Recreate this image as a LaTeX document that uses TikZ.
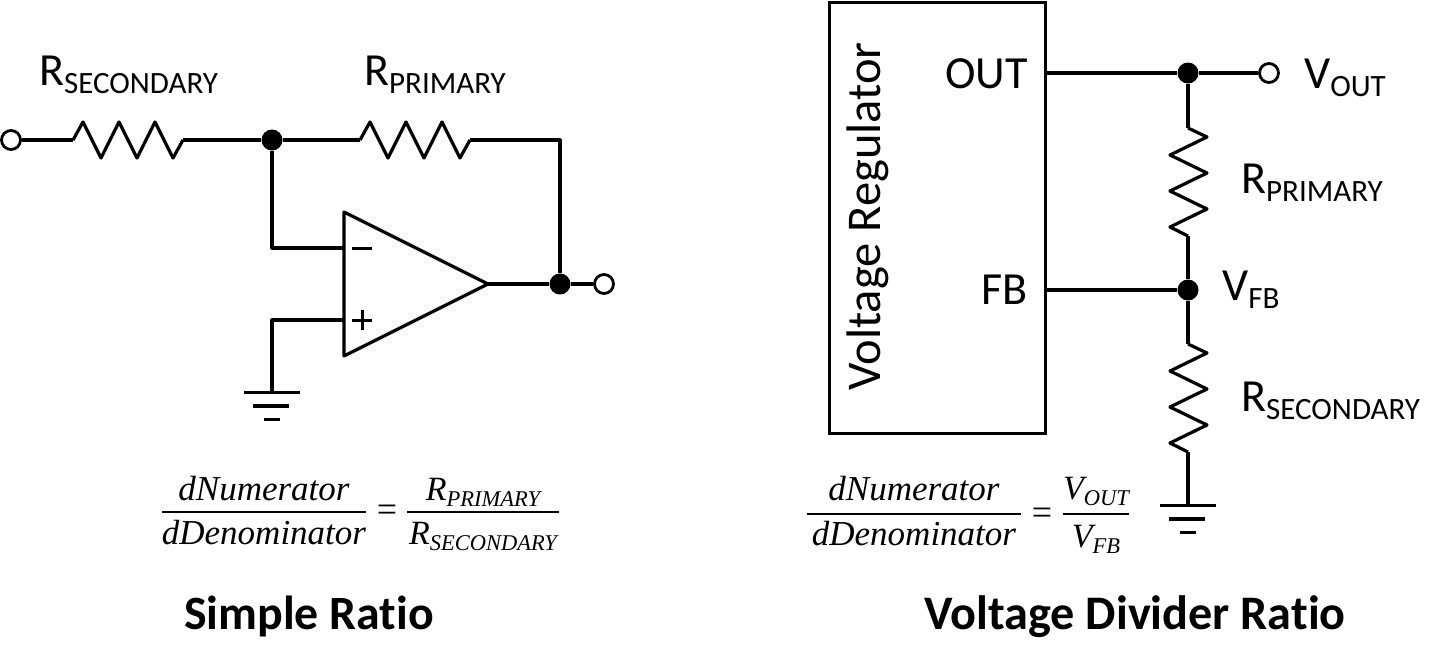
\documentclass[tikz,border=0pt]{standalone}
\usepackage{fontspec}
\setsansfont{Carlito}[Ligatures=NoCommon]
\newfontfamily\ratiofont{Liberation Serif}
\usetikzlibrary{arrows}

% label with a lowered small part
\newcommand{\lblsub}[2]{#1\raisebox{-8pt}{\fontsize{31}{36}\selectfont #2}}
\newcommand{\mathsub}[2]{{\fontsize{34}{40}\selectfont #1}\raisebox{-6pt}{\fontsize{22.5}{28}\selectfont #2}}

\begin{document}
\begin{tikzpicture}[
  x=1pt,y=-1pt,
  font=\sffamily,
  wire/.style={line width=3.2pt,line join=round},
  junction/.style={circle,fill=black,draw=none,minimum size=21pt,inner sep=0pt},
  terminal/.style={circle,fill=white,draw,line width=2.8pt,minimum size=19pt,inner sep=0pt},
  lbl/.style={anchor=base west,inner sep=0pt,font=\sffamily\fontsize{46}{52}\selectfont},
  title/.style={anchor=base west,inner sep=0pt,font=\sffamily\bfseries\fontsize{47.8}{54}\selectfont},
  ratio/.style={anchor=base,inner sep=0pt,font=\ratiofont\itshape\fontsize{35}{40}\selectfont},
  fracbar/.style={fill=black,inner sep=0pt,minimum height=2.5pt},
  hres/.pic={\draw[wire] (0,0) -- (10,-18) -- (28,18) -- (46,-18) -- (64,18) -- (82,-18) -- (100,18) -- (110,0);},
  vres/.pic={\draw[wire] (0,0) -- (19,9) -- (-18,27) -- (19,45) -- (-18,63) -- (19,81) -- (-18,99) -- (0,108);},
  gnd/.pic={
    \draw[line width=3pt] (-28,0) -- (28,0);
    \draw[line width=3.4pt] (-19,14) -- (17,14);
    \draw[line width=3pt] (-8,27) -- (8,27);}]

  % Simple ratio side
  \node[terminal] (in_term) at (11,140) {};
  \node[junction] (sum_dot) at (272,140) {};
  \node[junction] (out_dot) at (560,284) {};
  \node[terminal] (out_term) at (604,284) {};
  \coordinate (rs_in) at (73,140);
  \coordinate (rs_out) at (183,140);
  \coordinate (rp_in) at (360,140);
  \coordinate (rp_out) at (470,140);
  \coordinate (opamp_out) at (488,284);
  \coordinate (inv_in) at (344,248);
  \coordinate (non_in) at (344,320);
  \coordinate (gnd_a) at (272,392);

  \draw[wire] (344,212) -- (344,356) -- (opamp_out) -- cycle;
  \node[fill=black,inner sep=0pt,minimum width=20pt,minimum height=3pt] (minus_sign) at (362,248) {};
  \node[fill=black,inner sep=0pt,minimum width=20pt,minimum height=3pt] (plus_h) at (362,320) {};
  \node[fill=black,inner sep=0pt,minimum width=3pt,minimum height=20pt] (plus_v) at (362,320) {};

  \pic at (rs_in) {hres};
  \pic at (rp_in) {hres};
  \pic at (gnd_a) {gnd};

  \draw[wire] (in_term) -- (rs_in);
  \draw[wire] (rs_out) -- (sum_dot);
  \draw[wire] (sum_dot) -- (rp_in);
  \draw[wire] (rp_out) -| (out_dot);
  \draw[wire] (sum_dot) |- (inv_in);
  \draw[wire] (gnd_a) |- (non_in);
  \draw[wire] (opamp_out) -- (out_dot);
  \draw[wire] (out_dot) -- (out_term);

  \node[lbl] (rs_lbl) at (39,85) {\lblsub{R}{SECONDARY}};
  \node[lbl] (rp_lbl) at (364,85) {\lblsub{R}{PRIMARY}};

  \node[ratio] (num_a) at (264,500) {dNumerator};
  \node[fracbar,minimum width=204pt] (bar_a) at (264,512) {};
  \node[ratio] (den_a) at (264,544) {dDenominator};
  \node[ratio,font=\ratiofont\fontsize{36}{40}\selectfont] (eq_a) at (387,521.5) {=};
  \node[ratio,font=\ratiofont\itshape] (num_b) at (483,500) {\mathsub{R}{PRIMARY}};
  \node[fracbar,minimum width=152pt] (bar_b) at (483,512) {};
  \node[ratio,font=\ratiofont\itshape] (den_b) at (483,544) {\mathsub{R}{SECONDARY}};

  \node[title] (title_a) at (184,629.5) {Simple Ratio};

  % Voltage divider side
  \node[draw,line width=3pt,minimum width=216pt,minimum height=431pt,inner sep=0pt] (reg) at (937,217.5) {};
  \node[lbl,rotate=90,font=\sffamily\fontsize{48.5}{54}\selectfont] (reg_lbl) at (880,391) {Voltage Regulator};
  \node[lbl,anchor=base east] (out_lbl) at (1028,88) {OUT};
  \node[lbl,anchor=base east] (fb_lbl) at (1028,304) {FB};

  \coordinate (reg_out) at (reg.east |- 0,73);
  \coordinate (reg_fb) at (reg.east |- 0,290);
  \node[junction] (vout_dot) at (1188,73) {};
  \node[terminal] (vout_term) at (1269,73) {};
  \node[junction] (fb_dot) at (1188,290) {};
  \coordinate (r1_top) at (1188,128);
  \coordinate (r1_bot) at (1188,236);
  \coordinate (r2_top) at (1188,344);
  \coordinate (r2_bot) at (1188,452);
  \coordinate (gnd_b) at (1188,505);

  \pic at (r1_top) {vres};
  \pic at (r2_top) {vres};
  \pic at (gnd_b) {gnd};

  \draw[wire] (reg_out) -- (vout_dot);
  \draw[wire] (vout_dot) -- (vout_term);
  \draw[wire] (vout_dot) -- (r1_top);
  \draw[wire] (r1_bot) -- (fb_dot);
  \draw[wire] (reg_fb) -- (fb_dot);
  \draw[wire] (fb_dot) -- (r2_top);
  \draw[wire] (r2_bot) -- (gnd_b);

  \node[lbl] (vout_lbl) at (1304,88) {\lblsub{V}{OUT}};
  \node[lbl] (rp_lbl2) at (1241,193) {\lblsub{R}{PRIMARY}};
  \node[lbl] (vfb_lbl) at (1222,300) {\lblsub{V}{FB}};
  \node[lbl] (rs_lbl2) at (1241,411) {\lblsub{R}{SECONDARY}};

  \node[ratio] (num_c) at (914,500) {dNumerator};
  \node[fracbar,minimum width=214pt] (bar_c) at (914,514) {};
  \node[ratio] (den_c) at (914,545) {dDenominator};
  \node[ratio,font=\ratiofont\fontsize{36}{40}\selectfont] (eq_c) at (1042,524) {=};
  \node[ratio,font=\ratiofont\itshape] (num_d) at (1096,499) {\mathsub{V}{OUT}};
  \node[fracbar,minimum width=66pt] (bar_d) at (1096,514) {};
  \node[ratio,font=\ratiofont\itshape] (den_d) at (1096,547) {\mathsub{V}{FB}};

  \node[title,font=\sffamily\bfseries\fontsize{48.2}{54}\selectfont] (title_b) at (924,629.5) {Voltage Divider Ratio};

  \useasboundingbox (0,0) rectangle (1439,665);
\end{tikzpicture}
\end{document}
